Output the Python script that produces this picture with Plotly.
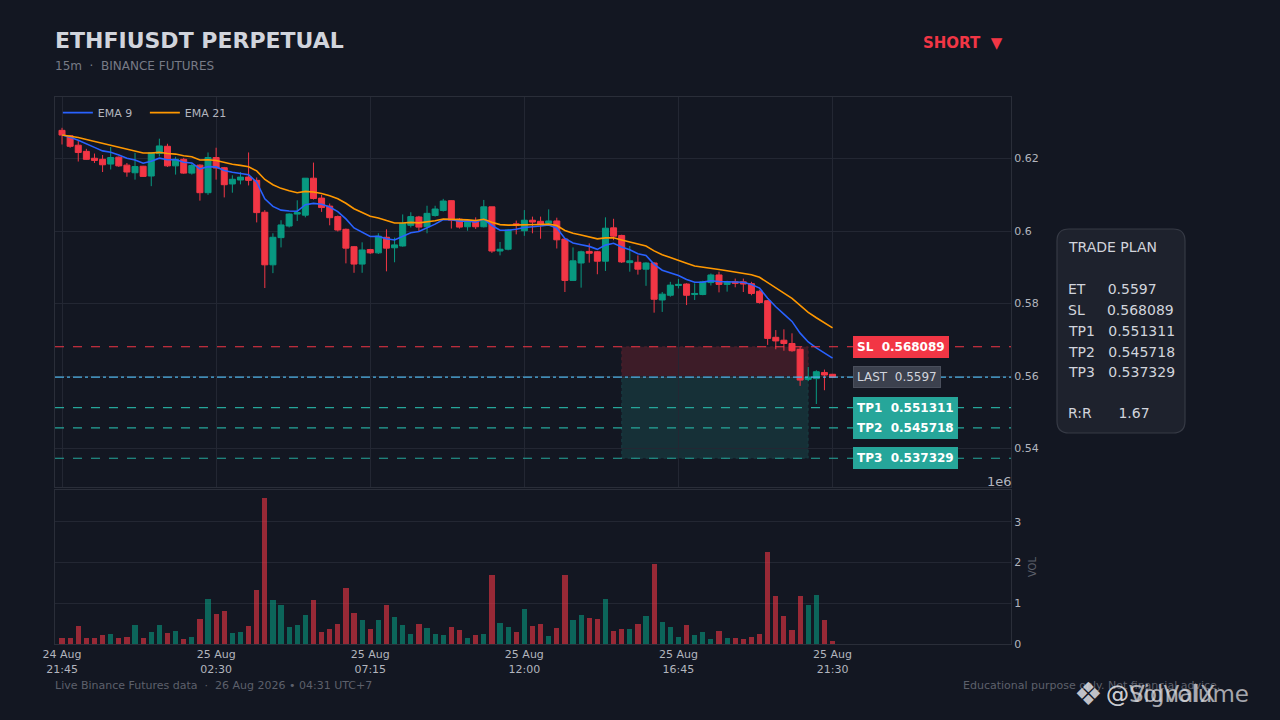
import plotly.graph_objects as go
from plotly.subplots import make_subplots
import pandas as pd

# 15m candles, 24 Aug 21:45 -> 25 Aug 21:30 (UTC+7)
times = pd.date_range("2026-08-24 21:45", periods=96, freq="15min")

opens = [
    0.6278, 0.6263, 0.6237, 0.6220, 0.6201, 0.6198, 0.6185, 0.6204, 0.6182, 0.6161,
    0.6179, 0.6152, 0.6214, 0.6234, 0.6180, 0.6198, 0.6160, 0.6182, 0.6106, 0.6203,
    0.6175, 0.6130, 0.6141, 0.6149, 0.6140, 0.6052, 0.5907, 0.5982, 0.6014, 0.6047,
    0.6044, 0.6146, 0.6091, 0.6069, 0.6040, 0.6005, 0.5957, 0.5909, 0.5949, 0.5940,
    0.5983, 0.5954, 0.5959, 0.6016, 0.6039, 0.6012, 0.6043, 0.6057, 0.6084, 0.6033,
    0.6012, 0.6029, 0.6012, 0.6067, 0.5945, 0.5950, 0.6020, 0.6001, 0.6030, 0.6027,
    0.6022, 0.6028, 0.5978, 0.5864, 0.5912, 0.5944, 0.5943, 0.5917, 0.6009, 0.5988,
    0.5913, 0.5914, 0.5895, 0.5912, 0.5810, 0.5823, 0.5850, 0.5854, 0.5825, 0.5825,
    0.5858, 0.5879, 0.5853, 0.5860, 0.5860, 0.5855, 0.5834, 0.5808, 0.5707, 0.5699,
    0.5690, 0.5674, 0.5591, 0.5593, 0.5610, 0.5605,
]
highs = [
    0.6285, 0.6265, 0.6249, 0.6227, 0.6214, 0.6210, 0.6232, 0.6206, 0.6188, 0.6216,
    0.6180, 0.6217, 0.6255, 0.6241, 0.6205, 0.6202, 0.6186, 0.6184, 0.6217, 0.6230,
    0.6177, 0.6154, 0.6163, 0.6217, 0.6148, 0.6058, 0.5994, 0.6030, 0.6049, 0.6085,
    0.6146, 0.6189, 0.6100, 0.6076, 0.6043, 0.6007, 0.5959, 0.5969, 0.5951, 0.5994,
    0.6005, 0.5982, 0.6046, 0.6052, 0.6042, 0.6070, 0.6070, 0.6089, 0.6085, 0.6036,
    0.6030, 0.6038, 0.6086, 0.6067, 0.5970, 0.6006, 0.6029, 0.6058, 0.6040, 0.6040,
    0.6060, 0.6037, 0.5980, 0.5955, 0.5946, 0.5966, 0.5945, 0.6038, 0.6034, 0.5990,
    0.5959, 0.5933, 0.5914, 0.5914, 0.5832, 0.5860, 0.5868, 0.5856, 0.5856, 0.5863,
    0.5883, 0.5888, 0.5863, 0.5869, 0.5869, 0.5860, 0.5837, 0.5810, 0.5727, 0.5729,
    0.5718, 0.5681, 0.5625, 0.5616, 0.5618, 0.5606,
]
lows = [
    0.6239, 0.6230, 0.6192, 0.6197, 0.6188, 0.6163, 0.6170, 0.6177, 0.6150, 0.6142,
    0.6150, 0.6124, 0.6206, 0.6177, 0.6156, 0.6158, 0.6156, 0.6084, 0.6100, 0.6142,
    0.6093, 0.6106, 0.6129, 0.6126, 0.6024, 0.5843, 0.5884, 0.5955, 0.6010, 0.6028,
    0.6038, 0.6087, 0.6053, 0.6016, 0.5999, 0.5911, 0.5885, 0.5885, 0.5937, 0.5937,
    0.5889, 0.5914, 0.5957, 0.6010, 0.6000, 0.5994, 0.6040, 0.6054, 0.6007, 0.6007,
    0.6001, 0.6006, 0.6010, 0.5940, 0.5933, 0.5947, 0.5991, 0.5987, 0.5994, 0.5979,
    0.6018, 0.5952, 0.5832, 0.5863, 0.5844, 0.5913, 0.5881, 0.5890, 0.5975, 0.5912,
    0.5888, 0.5880, 0.5849, 0.5775, 0.5777, 0.5819, 0.5842, 0.5796, 0.5810, 0.5823,
    0.5850, 0.5831, 0.5833, 0.5845, 0.5832, 0.5823, 0.5800, 0.5686, 0.5674, 0.5670,
    0.5667, 0.5573, 0.5586, 0.5523, 0.5561, 0.5595,
]
closes = [
    0.6265, 0.6234, 0.6217, 0.6198, 0.6195, 0.6183, 0.6203, 0.6180, 0.6163, 0.6178,
    0.6151, 0.6216, 0.6235, 0.6180, 0.6198, 0.6160, 0.6181, 0.6106, 0.6203, 0.6174,
    0.6128, 0.6143, 0.6149, 0.6140, 0.6051, 0.5907, 0.5983, 0.6017, 0.6047, 0.6051,
    0.6146, 0.6090, 0.6065, 0.6037, 0.6003, 0.5953, 0.5909, 0.5948, 0.5940, 0.5986,
    0.5953, 0.5962, 0.6021, 0.6040, 0.6011, 0.6049, 0.6061, 0.6083, 0.6030, 0.6011,
    0.6029, 0.6012, 0.6067, 0.5945, 0.5950, 0.6003, 0.6016, 0.6030, 0.6025, 0.6018,
    0.6028, 0.5976, 0.5864, 0.5918, 0.5943, 0.5939, 0.5917, 0.6008, 0.5986, 0.5915,
    0.5918, 0.5895, 0.5912, 0.5812, 0.5826, 0.5851, 0.5853, 0.5823, 0.5828, 0.5860,
    0.5879, 0.5853, 0.5860, 0.5856, 0.5854, 0.5828, 0.5803, 0.5704, 0.5697, 0.5690,
    0.5670, 0.5589, 0.5597, 0.5612, 0.5603, 0.5597,
]
# volume in millions
volumes = [
    0.15, 0.15, 0.44, 0.15, 0.15, 0.22, 0.25, 0.15, 0.17, 0.47,
    0.15, 0.30, 0.47, 0.27, 0.32, 0.12, 0.17, 0.61, 1.11, 0.74,
    0.81, 0.27, 0.30, 0.44, 1.33, 3.59, 1.08, 0.96, 0.42, 0.47,
    0.71, 1.08, 0.30, 0.37, 0.49, 1.38, 0.76, 0.59, 0.37, 0.59,
    0.96, 0.66, 0.47, 0.25, 0.49, 0.39, 0.25, 0.22, 0.42, 0.34,
    0.15, 0.22, 0.25, 1.70, 0.52, 0.42, 0.30, 0.86, 0.44, 0.49,
    0.20, 0.39, 1.70, 0.59, 0.71, 0.64, 0.61, 1.11, 0.32, 0.37,
    0.37, 0.49, 0.69, 1.97, 0.54, 0.42, 0.17, 0.47, 0.22, 0.30,
    0.12, 0.32, 0.15, 0.15, 0.12, 0.17, 0.25, 2.26, 1.18, 0.69,
    0.34, 1.18, 0.96, 1.20, 0.59, 0.07,
]

# trade plan
entry = 0.5597
stop_loss = 0.568089
targets = [0.551311, 0.545718, 0.537329]
risk_reward = 1.67

price_ticks = [0.54, 0.56, 0.58, 0.6, 0.62]
price_tick_labels = ["0.54", "0.56", "0.58", "0.6", "0.62"]
vol_ticks = [0, 1, 2, 3]
date_tick_idx = [0, 19, 38, 57, 76, 95]

BG = "#131722"
GRID = "#232733"
BORDER = "#2a2e39"
TXT = "#b2b5be"
GREEN = "#089981"
RED = "#f23645"
TEAL = "#26a69a"
FONT = "DejaVu Sans"

df = pd.DataFrame({"time": times, "open": opens, "high": highs,
                   "low": lows, "close": closes, "vol": volumes})
df["ema9"] = df["close"].ewm(span=9, adjust=False).mean()
df["ema21"] = df["close"].ewm(span=21, adjust=False).mean()
vol_colors = ["rgba(8,153,129,0.6)" if c >= o else "rgba(242,54,69,0.6)"
              for o, c in zip(df["open"], df["close"])]

fig = make_subplots(rows=2, cols=1, shared_xaxes=True)

fig.add_trace(go.Candlestick(
    x=df["time"], open=df["open"], high=df["high"], low=df["low"], close=df["close"],
    increasing=dict(line=dict(color=GREEN, width=1), fillcolor=GREEN),
    decreasing=dict(line=dict(color=RED, width=1), fillcolor=RED),
    showlegend=False, name="ETHFIUSDT"), row=1, col=1)
fig.add_trace(go.Scatter(x=df["time"], y=df["ema9"], mode="lines", name="EMA 9",
                         line=dict(color="#2962ff", width=1.6)), row=1, col=1)
fig.add_trace(go.Scatter(x=df["time"], y=df["ema21"], mode="lines", name="EMA 21",
                         line=dict(color="#ff9800", width=1.6)), row=1, col=1)
fig.add_trace(go.Bar(x=df["time"], y=df["vol"], marker=dict(color=vol_colors, line=dict(width=0)),
                     width=15 * 60 * 1000 * 0.64, showlegend=False, name="Volume"),
              row=2, col=1)

# risk / reward zones
fig.add_shape(type="rect", xref="x", yref="y", x0=times[69], x1=times[92],
              y0=entry, y1=stop_loss, fillcolor="rgba(242,54,69,0.19)",
              line=dict(color="rgba(242,54,69,0.25)", width=0.8, dash="dot"), layer="below")
fig.add_shape(type="rect", xref="x", yref="y", x0=times[69], x1=times[92],
              y0=targets[2], y1=entry, fillcolor="rgba(38,166,154,0.18)",
              line=dict(color="rgba(38,166,154,0.25)", width=0.8, dash="dot"), layer="below")

# level lines
fig.add_shape(type="line", xref="x domain", yref="y", x0=0, x1=1, y0=stop_loss, y1=stop_loss,
              line=dict(color=RED, width=1.2, dash="dash"))
fig.add_shape(type="line", xref="x domain", yref="y", x0=0, x1=1, y0=entry, y1=entry,
              line=dict(color="#4fb3e8", width=1.2, dash="dashdot"))
for tp in targets:
    fig.add_shape(type="line", xref="x domain", yref="y", x0=0, x1=1, y0=tp, y1=tp,
                  line=dict(color=TEAL, width=1.2, dash="dash"))

# helpers for pixel placement
def px_x(px):
    return (px - 55) / 956

def px_y(py):
    return (644 - py) / 547

lab_x = px_x(853)
fig.add_annotation(x=lab_x, y=stop_loss, xref="paper", yref="y", xanchor="left",
                   text="<b>SL\u00a0\u00a00.568089</b>", showarrow=False,
                   font=dict(family=FONT, size=12, color="white"),
                   bgcolor=RED, bordercolor=RED, borderpad=3)
fig.add_annotation(x=lab_x, y=entry, xref="paper", yref="y", xanchor="left",
                   text="LAST\u00a0\u00a00.5597", showarrow=False,
                   font=dict(family=FONT, size=12, color="#d1d4dc"),
                   bgcolor="#3c414e", bordercolor="#4a4f5c", borderpad=3)
for i, tp in enumerate(targets):
    fig.add_annotation(x=lab_x, y=tp, xref="paper", yref="y", xanchor="left",
                       text=f"<b>TP{i + 1}\u00a0\u00a0{tp:.6f}</b>", showarrow=False,
                       font=dict(family=FONT, size=12, color="white"),
                       bgcolor=TEAL, bordercolor=TEAL, borderpad=3)

# trade plan card
x0, x1, y0, y1 = px_x(1057), px_x(1185), px_y(433), px_y(229)
rx, ry = 12 / 956, 12 / 547
card = (f"M {x0 + rx},{y0} L {x1 - rx},{y0} Q {x1},{y0} {x1},{y0 + ry} "
        f"L {x1},{y1 - ry} Q {x1},{y1} {x1 - rx},{y1} L {x0 + rx},{y1} "
        f"Q {x0},{y1} {x0},{y1 - ry} L {x0},{y0 + ry} Q {x0},{y0} {x0 + rx},{y0} Z")
fig.add_shape(type="path", xref="paper", yref="paper", path=card,
              fillcolor="#1e222d", line=dict(color="#363a45", width=1.2))
nb = "\u00a0"
plan_rows = [
    ("TRADE PLAN", 247),
    (f"ET{nb * 5}{entry}", 289),
    (f"SL{nb * 5}{stop_loss}", 310),
    (f"TP1{nb * 3}{targets[0]}", 331),
    (f"TP2{nb * 3}{targets[1]}", 352),
    (f"TP3{nb * 3}{targets[2]}", 372),
    (f"R:R{nb * 6}{risk_reward}", 413),
]
for txt, py in plan_rows:
    fig.add_annotation(x=px_x(1066), y=px_y(py), xref="paper", yref="paper",
                       xanchor="left", yanchor="middle", text=txt, showarrow=False,
                       font=dict(family=FONT, size=14, color="#d1d4dc"))

# header
fig.add_annotation(x=0, y=px_y(40), xref="paper", yref="paper", xanchor="left", yanchor="middle",
                   text="<b>ETHFIUSDT PERPETUAL</b>", showarrow=False, xshift=-2,
                   font=dict(family=FONT, size=22, color="#d1d4dc"))
fig.add_annotation(x=0, y=px_y(66), xref="paper", yref="paper", xanchor="left", yanchor="middle",
                   text="15m\u00a0\u00a0·\u00a0\u00a0BINANCE FUTURES", showarrow=False, xshift=-2,
                   font=dict(family=FONT, size=12, color="#787b86"))
fig.add_annotation(x=px_x(1005), y=px_y(43), xref="paper", yref="paper", xanchor="right",
                   yanchor="middle", text="<b>SHORT\u00a0\u00a0▼</b>", showarrow=False,
                   font=dict(family=FONT, size=15, color=RED))

# volume offset text
fig.add_annotation(x=1, y=px_y(481), xref="paper", yref="paper", xanchor="right", yanchor="middle",
                   text="1e6", showarrow=False, xshift=3,
                   font=dict(family=FONT, size=13, color=TXT))

# footer
fig.add_annotation(x=0, y=px_y(685), xref="paper", yref="paper", xanchor="left", yanchor="middle",
                   text="Live Binance Futures data\u00a0\u00a0·\u00a0\u00a026 Aug 2026 • 04:31 UTC+7",
                   showarrow=False, xshift=-2, font=dict(family=FONT, size=11, color="#5d606b"))
fig.add_annotation(x=px_x(961), y=px_y(685), xref="paper", yref="paper", xanchor="left",
                   yanchor="middle", text="Educational purpose only. Not financial advice.",
                   showarrow=False, font=dict(family=FONT, size=11, color="#5d606b"))
# watermark (stamped over the footer in the source)
fig.add_annotation(x=px_x(1088), y=px_y(694), xref="paper", yref="paper", xanchor="center",
                   yanchor="middle", text="❖", showarrow=False,
                   font=dict(family=FONT, size=32, color="rgba(225,225,230,0.85)"))
for wm in ["@SignalX", "@VolVolume"]:
    fig.add_annotation(x=px_x(1104), y=px_y(694), xref="paper", yref="paper", xanchor="left",
                       yanchor="middle", text=wm, showarrow=False,
                       font=dict(family=FONT, size=23, color="rgba(215,215,220,0.75)"))

x_range = [times[0] - pd.Timedelta(minutes=13), times[-1] + pd.Timedelta(minutes=330)]
tick_vals = [times[i] for i in date_tick_idx]
tick_text = [t.strftime("%d %b<br>%H:%M") for t in tick_vals]

fig.update_layout(
    width=1280, height=720,
    paper_bgcolor=BG, plot_bgcolor=BG,
    margin=dict(l=55, r=269, t=97, b=76),
    font=dict(family=FONT, color=TXT, size=11),
    showlegend=True,
    legend=dict(orientation="h", x=0.003, y=0.998, xanchor="left", yanchor="top",
                entrywidth=42, bgcolor="rgba(0,0,0,0)",
                font=dict(family=FONT, size=11, color=TXT)),
    bargap=0,
    boxgap=0.26, boxgroupgap=0,
    hovermode="x",
)
fig.update_xaxes(range=x_range, showline=True, mirror=True, linecolor=BORDER, linewidth=1,
                 zeroline=False, tickvals=tick_vals, rangeslider=dict(visible=False))
fig.update_xaxes(showgrid=True, gridcolor=GRID, showticklabels=False, row=1, col=1)
fig.update_xaxes(showgrid=False, ticktext=tick_text, showticklabels=True,
                 tickfont=dict(family=FONT, size=11, color=TXT), row=2, col=1)
fig.update_layout(
    yaxis=dict(domain=[px_y(487), 1], side="right", range=[0.5294, 0.637],
               tickvals=price_ticks, ticktext=price_tick_labels, showgrid=True, gridcolor=GRID,
               showline=True, mirror=True, linecolor=BORDER, zeroline=False,
               tickfont=dict(family=FONT, size=11, color=TXT)),
    yaxis2=dict(domain=[0, px_y(490)], side="right", range=[0, 3.78],
                tickvals=vol_ticks, ticktext=[str(v) for v in vol_ticks], showgrid=True,
                gridcolor=GRID, showline=True, mirror=True, linecolor=BORDER, zeroline=False,
                tickfont=dict(family=FONT, size=11, color=TXT),
                title=dict(text="VOL", font=dict(family=FONT, size=10, color="#5d606b"), standoff=8)),
)

fig.write_html(
    "out.html",
    config={"displayModeBar": False},
    post_script="document.body.style.margin='0';document.body.style.background='#131722';",
)
